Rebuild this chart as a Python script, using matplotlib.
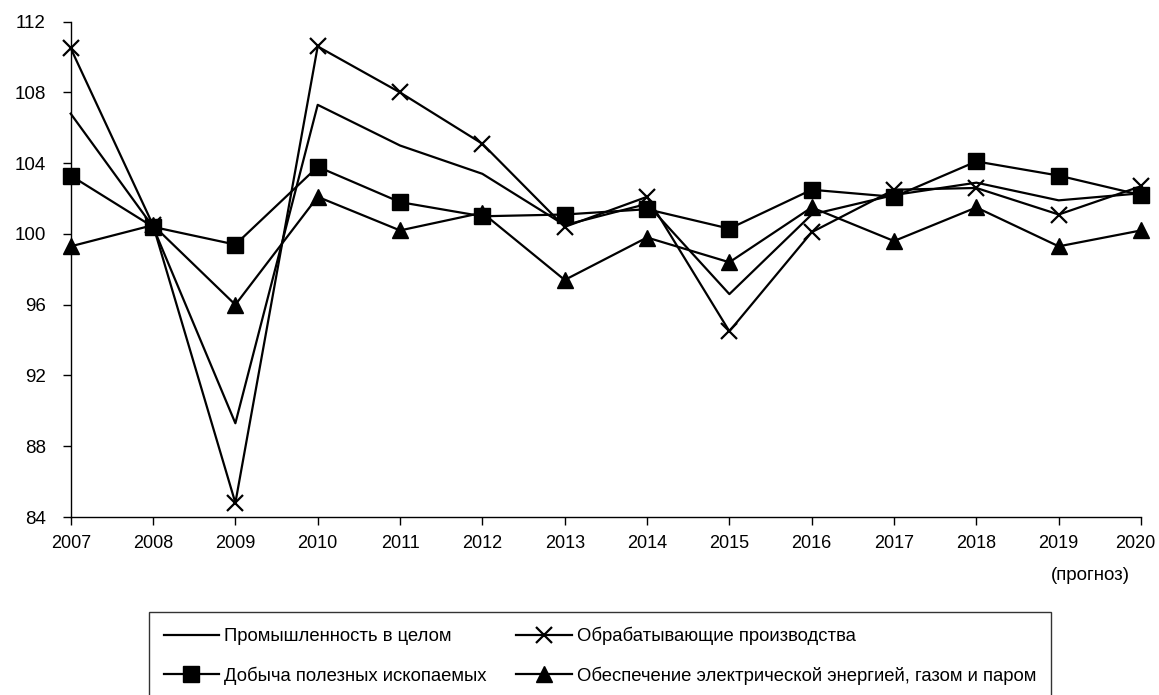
import matplotlib.pyplot as plt
import matplotlib.transforms as mtransforms

plt.rcParams['font.family'] = ['Liberation Sans', 'DejaVu Sans']

years = list(range(2007, 2021))

# Индексы производства, % к предыдущему году
industry_total = [106.8, 100.4, 89.3, 107.3, 105.0, 103.4, 100.5, 101.7, 96.6, 101.1, 102.2, 102.9, 101.9, 102.3]
manufacturing = [110.5, 100.5, 84.8, 110.6, 108.0, 105.1, 100.4, 102.1, 94.5, 100.1, 102.5, 102.6, 101.1, 102.7]
mining = [103.3, 100.4, 99.4, 103.8, 101.8, 101.0, 101.1, 101.4, 100.3, 102.5, 102.1, 104.1, 103.3, 102.2]
utilities = [99.3, 100.5, 96.0, 102.1, 100.2, 101.2, 97.4, 99.8, 98.4, 101.5, 99.6, 101.5, 99.3, 100.2]

labels = ['Промышленность в целом', 'Обрабатывающие производства',
          'Добыча полезных ископаемых', 'Обеспечение электрической энергией, газом и паром']

fig = plt.figure(figsize=(11.59, 6.95), dpi=100)
ax = fig.add_axes([0.061, 0.2561, 0.9235, 0.7127])

lw = 1.6
l1, = ax.plot(years, industry_total, color='black', lw=lw, clip_on=False)
l2, = ax.plot(years, manufacturing, color='black', lw=lw, marker='x', markersize=12,
              markeredgewidth=1.6, clip_on=False)
l3, = ax.plot(years, mining, color='black', lw=lw, marker='s', markersize=11, clip_on=False)
l4, = ax.plot(years, utilities, color='black', lw=lw, marker='^', markersize=11, clip_on=False)

ax.set_xlim(2007, 2020)
ax.set_ylim(84, 112)
ax.set_xticks(years)
ax.set_yticks(range(84, 113, 4))
ax.tick_params(direction='out', length=6, width=1)
ax.tick_params(axis='x', labelsize=13, pad=7)
ax.tick_params(axis='y', labelsize=13.5, pad=12)
for side in ('top', 'right'):
    ax.spines[side].set_visible(False)
for side in ('left', 'bottom'):
    ax.spines[side].set_linewidth(1)

# last year label pulled in a bit so it fits inside the figure
last = ax.get_xticklabels()[-1]
last.set_transform(last.get_transform() +
                   mtransforms.ScaledTranslation(-6 / 100, 0, fig.dpi_scale_trans))

fig.text(1090 / 1159, 1 - 575 / 695, '(прогноз)', ha='center', va='center', fontsize=13.5)

leg = fig.legend([l1, l3, l2, l4], [labels[0], labels[2], labels[1], labels[3]],
                 loc='upper left', bbox_to_anchor=(149 / 1159, 1 - 612 / 695), ncol=2,
                 fontsize=13.3, frameon=True, fancybox=False, edgecolor='black',
                 handlelength=3.0, handletextpad=0.28, columnspacing=1.6,
                 labelspacing=1.15, borderpad=0.8, borderaxespad=0)
leg.get_frame().set_linewidth(1)

fig.savefig('out.png', dpi=100)
